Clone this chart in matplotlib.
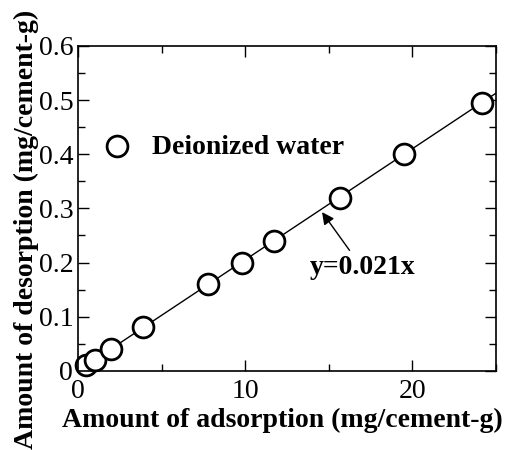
import matplotlib
matplotlib.use("Agg")
import matplotlib.pyplot as plt
from matplotlib.ticker import MultipleLocator, FuncFormatter

plt.rcParams['font.family'] = ['Liberation Serif', 'DejaVu Serif']

# measured points
adsorption = [0.5, 1.0, 2.0, 3.9, 7.8, 9.8, 11.7, 15.7, 19.5, 24.2]
desorption = [0.01, 0.02, 0.04, 0.08, 0.16, 0.20, 0.24, 0.32, 0.40, 0.495]
slope = 0.0205
fit_x = [0, 25]

fig = plt.figure(figsize=(5.07, 4.5), dpi=100)
ax = fig.add_axes([0.154, 0.176, 0.824, 0.722])

ax.plot(fit_x, [slope * v for v in fit_x], color="black", lw=1.0, zorder=1)
ax.plot(adsorption, desorption, "o", ms=15, mfc="white", mec="black",
        mew=2.0, zorder=2, clip_on=False)

ax.set_xlim(0, 25)
ax.set_ylim(0, 0.6)
ax.xaxis.set_major_locator(MultipleLocator(10))
ax.xaxis.set_minor_locator(MultipleLocator(5))
ax.yaxis.set_major_locator(MultipleLocator(0.1))
ax.yaxis.set_minor_locator(MultipleLocator(0.05))
ax.yaxis.set_major_formatter(FuncFormatter(lambda v, p: "0" if abs(v) < 1e-9 else "%.1f" % v))
ax.tick_params(which="both", direction="in", top=True, right=True, width=1.0,
               labelsize=20)
ax.tick_params(axis="x", pad=6)
ax.tick_params(axis="y", pad=3.5)
ax.tick_params(which="major", length=8)
ax.tick_params(which="minor", length=5)
for s in ax.spines.values():
    s.set_linewidth(1.2)

ax.set_xlabel("Amount of adsorption (mg/cement-g)", fontsize=20, fontweight="bold", labelpad=3)
ax.set_ylabel("Amount of desorption (mg/cement-g)", fontsize=20, fontweight="bold", labelpad=0)
ax.xaxis.label.set_x(0.49)
ax.yaxis.label.set_y(0.434)

# legend-style label
ax.plot([2.3], [0.415], "o", ms=15, mfc="white", mec="black", mew=2.0)
ax.text(4.4, 0.413, "Deionized water", fontsize=20, fontweight="bold", va="center")

ax.annotate("y=0.021x", xy=(14.6, 0.293), xytext=(17.0, 0.19), fontsize=20,
            fontweight="bold", ha="center", va="center",
            arrowprops=dict(arrowstyle="-|>", color="black", lw=1.0,
                            mutation_scale=18, shrinkA=2, shrinkB=0))

fig.savefig("out.png", dpi=100)
